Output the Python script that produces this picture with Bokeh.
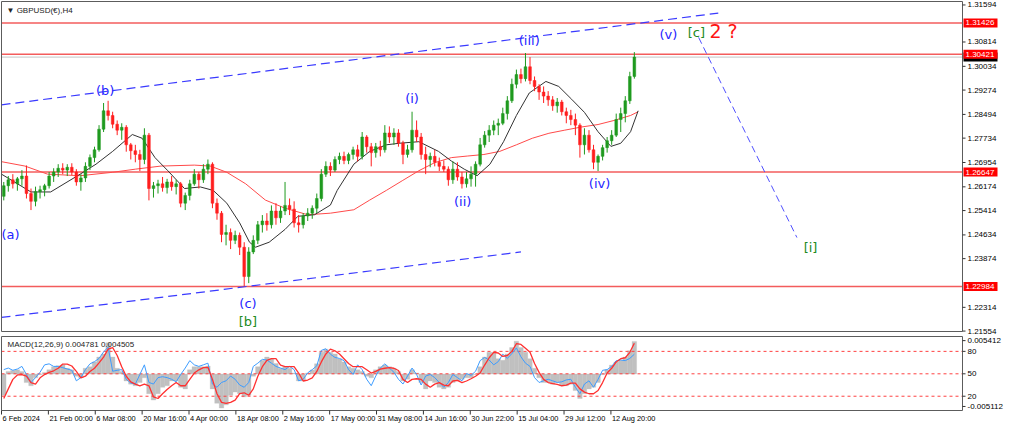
import numpy as np
from bokeh.plotting import figure
from bokeh.models import Range1d, ColumnDataSource
from bokeh.layouts import column
from bokeh.embed import file_html
from bokeh.resources import INLINE
from bokeh.core.properties import value

# ---------------- data ----------------
BARS_PER_CANDLE = 6          # one drawn candle = one trading day of H4 bars

first_open = 1.2587
closes = [
    1.2621, 1.2640, 1.2627, 1.2643, 1.2652, 1.2596, 1.2571, 1.2602, 1.2608, 1.2621,
    1.2652, 1.2665, 1.2677, 1.2671, 1.2680, 1.2665, 1.2633, 1.2646, 1.2683, 1.2711,
    1.2736, 1.2802, 1.2861, 1.2846, 1.2818, 1.2799, 1.2808, 1.2752, 1.2733, 1.2721,
    1.2705, 1.2783, 1.2612, 1.2621, 1.2627, 1.2615, 1.2633, 1.2618, 1.2627, 1.2565,
    1.2590, 1.2627, 1.2658, 1.2640, 1.2674, 1.2690, 1.2565, 1.2533, 1.2465, 1.2471,
    1.2446, 1.2462, 1.2424, 1.2330, 1.2409, 1.2446, 1.2496, 1.2508, 1.2496, 1.2540,
    1.2518, 1.2540, 1.2558, 1.2546, 1.2502, 1.2496, 1.2524, 1.2533, 1.2549, 1.2580,
    1.2658, 1.2683, 1.2671, 1.2705, 1.2715, 1.2702, 1.2721, 1.2736, 1.2715, 1.2777,
    1.2746, 1.2727, 1.2746, 1.2736, 1.2790, 1.2777, 1.2790, 1.2758, 1.2721, 1.2736,
    1.2799, 1.2777, 1.2721, 1.2705, 1.2715, 1.2696, 1.2683, 1.2674, 1.2640, 1.2674,
    1.2649, 1.2627, 1.2643, 1.2658, 1.2690, 1.2752, 1.2783, 1.2799, 1.2815, 1.2821,
    1.2852, 1.2893, 1.2946, 1.2977, 1.2964, 1.3002, 1.2958, 1.2939, 1.2921, 1.2908,
    1.2896, 1.2877, 1.2889, 1.2858, 1.2846, 1.2833, 1.2815, 1.2752, 1.2783, 1.2736,
    1.2696, 1.2715, 1.2743, 1.2765, 1.2783, 1.2833, 1.2852, 1.2893, 1.2971, 1.3033,
]
highs = [
    1.2633, 1.2652, 1.2658, 1.2649, 1.2671, 1.2686, 1.2612, 1.2618, 1.2621, 1.2627,
    1.2665, 1.2677, 1.2690, 1.2693, 1.2690, 1.2693, 1.2674, 1.2658, 1.2696, 1.2721,
    1.2746, 1.2815, 1.2886, 1.2893, 1.2858, 1.2830, 1.2821, 1.2815, 1.2758, 1.2752,
    1.2736, 1.2805, 1.2790, 1.2633, 1.2640, 1.2649, 1.2643, 1.2652, 1.2640, 1.2633,
    1.2599, 1.2640, 1.2674, 1.2665, 1.2690, 1.2705, 1.2696, 1.2580, 1.2540, 1.2496,
    1.2484, 1.2477, 1.2471, 1.2440, 1.2424, 1.2462, 1.2508, 1.2527, 1.2533, 1.2558,
    1.2565, 1.2555, 1.2633, 1.2580, 1.2571, 1.2527, 1.2533, 1.2549, 1.2558, 1.2596,
    1.2674, 1.2699, 1.2696, 1.2715, 1.2727, 1.2730, 1.2727, 1.2746, 1.2752, 1.2793,
    1.2783, 1.2758, 1.2758, 1.2765, 1.2815, 1.2811, 1.2805, 1.2802, 1.2765, 1.2752,
    1.2858, 1.2830, 1.2790, 1.2746, 1.2727, 1.2736, 1.2711, 1.2702, 1.2683, 1.2699,
    1.2696, 1.2665, 1.2665, 1.2683, 1.2699, 1.2774, 1.2796, 1.2815, 1.2830, 1.2836,
    1.2871, 1.2908, 1.2964, 1.2993, 1.2996, 1.3046, 1.3033, 1.2971, 1.2946, 1.2939,
    1.2924, 1.2908, 1.2902, 1.2896, 1.2871, 1.2864, 1.2852, 1.2821, 1.2805, 1.2799,
    1.2752, 1.2721, 1.2752, 1.2777, 1.2799, 1.2852, 1.2871, 1.2908, 1.2986, 1.3049,
]
lows = [
    1.2574, 1.2602, 1.2612, 1.2605, 1.2621, 1.2580, 1.2543, 1.2555, 1.2580, 1.2587,
    1.2612, 1.2633, 1.2649, 1.2658, 1.2652, 1.2655, 1.2621, 1.2605, 1.2633, 1.2671,
    1.2696, 1.2730, 1.2793, 1.2830, 1.2805, 1.2783, 1.2768, 1.2730, 1.2705, 1.2696,
    1.2668, 1.2690, 1.2574, 1.2583, 1.2596, 1.2602, 1.2596, 1.2605, 1.2593, 1.2552,
    1.2543, 1.2574, 1.2621, 1.2612, 1.2630, 1.2658, 1.2549, 1.2512, 1.2440, 1.2430,
    1.2418, 1.2434, 1.2399, 1.2299, 1.2309, 1.2402, 1.2434, 1.2471, 1.2477, 1.2484,
    1.2496, 1.2502, 1.2527, 1.2527, 1.2487, 1.2471, 1.2484, 1.2508, 1.2515, 1.2533,
    1.2571, 1.2649, 1.2652, 1.2665, 1.2690, 1.2690, 1.2690, 1.2705, 1.2699, 1.2705,
    1.2727, 1.2683, 1.2711, 1.2715, 1.2727, 1.2758, 1.2752, 1.2746, 1.2690, 1.2711,
    1.2727, 1.2761, 1.2705, 1.2658, 1.2680, 1.2683, 1.2668, 1.2665, 1.2621, 1.2627,
    1.2637, 1.2612, 1.2615, 1.2618, 1.2618, 1.2683, 1.2743, 1.2761, 1.2783, 1.2783,
    1.2815, 1.2833, 1.2886, 1.2933, 1.2949, 1.2955, 1.2946, 1.2924, 1.2896, 1.2886,
    1.2877, 1.2861, 1.2855, 1.2846, 1.2821, 1.2815, 1.2783, 1.2711, 1.2721, 1.2727,
    1.2674, 1.2668, 1.2702, 1.2727, 1.2752, 1.2777, 1.2793, 1.2824, 1.2883, 1.2964,
]

# moving averages (bar index, price)
ma_fast_bars = [0, 39, 65, 104, 125, 147, 173, 186, 203, 220, 242, 263, 280, 298, 315,
                328, 336, 354, 375, 392, 414, 435, 444, 466, 487, 509, 526, 552, 578,
                595, 612, 629, 646, 664, 681, 698, 720, 737, 754, 771, 789, 806, 819,
                832, 842]
ma_fast = [1.2658, 1.2601, 1.2601, 1.2658, 1.2690, 1.2731, 1.2785, 1.2773, 1.2711,
           1.2669, 1.2612, 1.2617, 1.2606, 1.2565, 1.2502, 1.2440, 1.2424, 1.2440,
           1.2481, 1.2523, 1.2528, 1.2559, 1.2606, 1.2690, 1.2731, 1.2752, 1.2757,
           1.2762, 1.2731, 1.2700, 1.2674, 1.2653, 1.2690, 1.2762, 1.2846, 1.2918,
           1.2955, 1.2939, 1.2898, 1.2856, 1.2794, 1.2747, 1.2757, 1.2794, 1.2861]
ma_slow_bars = [0, 31, 61, 104, 147, 177, 211, 255, 276, 298, 323, 349, 375, 405, 435,
                466, 487, 509, 530, 552, 573, 595, 616, 638, 659, 681, 702, 724, 745,
                767, 789, 810, 832, 842]
ma_slow = [1.2698, 1.2684, 1.2658, 1.2653, 1.2664, 1.2674, 1.2684, 1.2687, 1.2684,
           1.2664, 1.2627, 1.2575, 1.2549, 1.2528, 1.2533, 1.2544, 1.2575, 1.2606,
           1.2637, 1.2669, 1.2695, 1.2711, 1.2716, 1.2721, 1.2731, 1.2752, 1.2773,
           1.2789, 1.2799, 1.2809, 1.2817, 1.2830, 1.2846, 1.2858]

# MACD histogram and signal (units of 1e-3), oscillator (0-100)
macd_hist_e3 = [
    -3.13, 0.37, 0.51, 0.61, 0.37, -1.26, -1.73, -0.56, -0.09, 0.23,
    0.61, 1.07, 1.21, 1.31, 0.84, 0.61, -0.33, -0.56, 0.84, 1.07,
    1.77, 2.48, 2.94, 4.58, 2.48, 0.84, 0.37, -1.03, -1.49, -1.73,
    -1.26, -0.56, -2.90, -3.83, -2.90, -1.96, -1.73, -1.03, -1.03, -1.96,
    -2.19, 0.61, 1.07, 1.07, 1.07, 1.17, -2.19, -4.30, -5.00, -4.53,
    -3.13, -2.66, -2.90, -3.36, -3.13, -0.33, 1.07, 2.01, 2.48, 2.24,
    1.54, 0.84, 1.07, 0.84, 0.14, -1.03, -1.03, 0.14, 0.60, 1.50,
    3.20, 3.64, 3.18, 2.94, 2.24, 1.77, 1.07, 0.84, 0.61, 0.37,
    -0.33, -0.56, 0.61, 1.07, 1.31, 1.07, 0.84, 0.37, -1.03, -0.79,
    0.61, 0.14, -1.26, -2.19, -1.03, -1.26, -1.96, -2.19, -1.96, -1.26,
    -1.03, -0.79, -0.56, -0.56, -0.09, 1.07, 2.48, 3.18, 3.18, 2.24,
    2.01, 2.94, 3.88, 4.81, 3.88, 3.18, 2.24, 0.84, -0.56, -1.26,
    -1.26, -1.49, -1.26, -1.73, -1.73, -1.49, -2.43, -3.60, -2.90, -2.19,
    -1.96, -1.26, -0.09, 0.61, 1.31, 1.77, 2.01, 2.48, 3.41, 4.78,
]
macd_signal_e3 = [
    -3.60, -2.19, -0.79, -0.14, -0.09, -0.33, -1.26, -1.49, -0.56, -0.09,
    0.23, 0.47, 0.84, 1.45, 1.45, 1.17, 0.37, -0.56, -0.33, 0.37,
    0.84, 1.63, 2.48, 3.64, 3.88, 2.71, 1.07, -0.33, -1.17, -1.49,
    -1.73, -1.49, -1.73, -3.36, -3.60, -2.90, -2.29, -1.73, -1.26, -1.73,
    -1.73, -0.79, 0.14, 0.61, 0.93, 0.98, -0.79, -2.90, -4.16, -4.30,
    -4.16, -3.83, -2.90, -2.76, -3.13, -2.19, -0.33, 1.07, 2.01, 2.24,
    2.24, 1.31, 1.07, 1.07, 1.07, 0.14, -1.03, -0.89, -0.56, 0.37,
    1.77, 2.94, 3.64, 3.41, 2.94, 2.24, 1.54, 1.07, 1.07, 1.07,
    0.61, 0.14, 0.37, 0.70, 0.84, 0.93, 0.84, 0.51, -0.79, -1.26,
    -0.79, -0.70, -0.79, -1.49, -1.96, -1.49, -1.26, -1.63, -1.73, -1.03,
    -0.93, -1.26, -1.03, -0.70, -0.33, 0.14, 1.31, 2.38, 3.18, 3.08,
    2.57, 2.71, 3.32, 4.44, 4.34, 3.78, 3.18, 1.54, 0.23, -0.79,
    -1.26, -1.40, -1.54, -1.73, -1.63, -1.35, -1.35, -2.19, -2.66, -2.90,
    -2.90, -2.43, -1.26, 0.14, 0.84, 1.77, 2.24, 2.38, 3.18, 4.50,
]
oscillator = [
    55.6, 57.7, 54.7, 56.4, 59.9, 49.1, 38.4, 44.9, 52.1, 62.0,
    63.3, 59.9, 59.9, 58.2, 56.4, 54.7, 40.6, 44.9, 55.6, 63.3,
    66.3, 70.6, 79.2, 85.6, 53.4, 54.7, 55.6, 42.7, 37.6, 36.3,
    49.1, 62.0, 38.4, 36.3, 44.9, 46.1, 44.9, 42.7, 39.3, 49.1,
    57.7, 67.6, 62.0, 59.9, 62.0, 64.2, 36.3, 32.0, 38.4, 40.6,
    47.0, 42.7, 35.0, 32.0, 38.4, 59.9, 64.2, 69.3, 68.4, 64.2,
    59.9, 57.7, 55.6, 59.9, 55.6, 40.6, 42.7, 51.3, 55.6, 60.7,
    81.3, 83.5, 76.2, 71.9, 70.6, 67.6, 55.6, 49.1, 62.0, 55.6,
    42.7, 34.1, 47.0, 57.7, 63.3, 57.7, 52.1, 42.7, 36.3, 47.0,
    57.7, 49.1, 35.0, 47.0, 49.1, 44.9, 38.4, 32.0, 38.4, 49.1,
    44.9, 40.6, 50.4, 47.9, 53.4, 67.6, 71.9, 68.4, 62.0, 66.3,
    76.2, 70.6, 77.0, 84.7, 72.7, 64.2, 59.9, 44.9, 38.4, 40.6,
    42.7, 40.6, 38.4, 39.3, 41.8, 42.7, 32.0, 23.4, 36.3, 40.6,
    32.0, 42.7, 54.7, 55.6, 59.9, 67.6, 68.4, 67.6, 70.6, 76.2,
]
osc_levels = [80, 50, 20]

# horizontal price levels and current bid
levels = [1.31426, 1.30421, 1.26647, 1.22984]
bid_price = 1.3033

# channel / projection lines: (bar index, price) endpoints
upper_channel_bars, upper_channel_prices = [0, 948], [1.2880, 1.3174]
lower_channel_bars, lower_channel_prices = [0, 687], [1.2199, 1.2409]
projection_bars, projection_prices = [922, 1052], [1.3096, 1.2455]

# wave labels
wave_text = ["(a)", "(b)", "(c)", "[b]", "(i)", "(ii)", "(iii)", "(iv)", "(v)", "[c]", "2 ?", "[i]"]
wave_bar = [12, 137, 326, 326, 543, 610, 698, 791, 882, 919, 955, 1070]
wave_price = [1.2465, 1.2927, 1.2243, 1.2187, 1.2899, 1.2571, 1.3086, 1.2627,
              1.3105, 1.3111, 1.3117, 1.2424]
wave_color = ["#2424ff"] * 3 + ["#218a21"] + ["#2424ff"] * 5 + ["#218a21", "#ff1414", "#218a21"]
wave_size = ["13px"] * 10 + ["19px", "13px"]

# axis ticks
price_tick_pos = [1.3200, 1.30814, 1.30034, 1.29274, 1.28494, 1.27734, 1.26954, 1.26174,
                  1.25414, 1.24634, 1.23874, 1.22314, 1.21554]
price_tick_text = ["1.31594", "1.30814", "1.30034", "1.29274", "1.28494", "1.27734",
                   "1.26954", "1.26174", "1.25414", "1.24634", "1.23874", "1.22314", "1.21554"]
date_tick_bars = [0, 62, 124, 186, 248, 310, 372, 434, 496, 558, 620, 682, 744, 806]
date_tick_text = ["6 Feb 2024", "21 Feb 00:00", "6 Mar 08:00", "20 Mar 16:00", "4 Apr 00:00",
                  "18 Apr 08:00", "2 May 16:00", "17 May 00:00", "31 May 08:00",
                  "14 Jun 16:00", "30 Jun 22:00", "15 Jul 04:00", "29 Jul 12:00",
                  "12 Aug 20:00"]
osc_tick_pos = [94.4, 80, 50, 20, 6.3]
osc_tick_text = ["0.005412", "80", "50", "20", "-0.005112"]

# ---------------- layout constants (pixels) ----------------
FONT = value("Liberation Sans")
W = 1008
X_END = 1271                 # last bar position at the right edge of the chart frame
FRAME_L_PX, FRAME_W_PX = 1, 961
PXB = FRAME_W_PX / X_END     # pixels per bar
x_lo = -FRAME_L_PX / PXB
x_hi = x_lo + W / PXB
AX = lambda px: X_END + px / PXB   # x position px pixels right of the frame

P_TOP, P_BOT = 1.32111, 1.2154
H1, F1_TOP, F1_H = 335, 1, 330
ppx = (P_TOP - P_BOT) / F1_H
y1_hi = P_TOP + F1_TOP * ppx
y1_lo = y1_hi - H1 * ppx

M_TOP, M_BOT = 0.0055, -0.00536
O_TOP, O_BOT = 99.9, 0.9
H2, F2_TOP, F2_H = 90, 1, 74
mpx = (M_TOP - M_BOT) / F2_H
opx = (O_TOP - O_BOT) / F2_H

FRAME_COLOR = "#5c5c5c"

# ---------------- main panel ----------------
n = len(closes)
xc = np.arange(n) * BARS_PER_CANDLE + BARS_PER_CANDLE / 2
opens = [first_open] + closes[:-1]
is_up = [c >= o for o, c in zip(opens, closes)]
col = ["#1f9a1f" if u else "#ff1e1e" for u in is_up]
candles = ColumnDataSource(dict(
    x=xc, top=np.maximum(opens, closes), bot=np.minimum(opens, closes),
    hi=np.maximum(highs, np.maximum(opens, closes)),
    lo=np.minimum(lows, np.minimum(opens, closes)),
    color=col,
))

x_range = Range1d(x_lo, x_hi)
p1 = figure(width=W, height=H1, x_range=x_range, y_range=Range1d(y1_lo, y1_hi),
            x_axis_location=None, y_axis_location=None, toolbar_location=None,
            output_backend="svg", min_border=0)
p1.grid.visible = False
p1.outline_line_color = None

# level lines (chart frame only) and bid line
p1.segment(x0=[0] * len(levels), y0=levels, x1=[X_END] * len(levels), y1=levels,
           line_color="#f24a4a", line_width=1.5, line_alpha=0.9)
p1.segment(x0=[0], y0=[bid_price], x1=[X_END], y1=[bid_price], line_color="#c4c4c4", line_width=1)

# channel lines
p1.line(upper_channel_bars, upper_channel_prices, line_color="#3a3aff", line_width=1.2, line_dash="9 5")
p1.line(lower_channel_bars, lower_channel_prices, line_color="#3a3aff", line_width=1.2, line_dash="9 5")
p1.line(projection_bars, projection_prices, line_color="#5050ff", line_width=1, line_dash="7 4")

# moving averages
p1.line(ma_slow_bars, ma_slow, line_color="#ff4a4a", line_width=1)
p1.line(ma_fast_bars, ma_fast, line_color="#333333", line_width=1)

# candles
p1.segment(x0="x", y0="lo", x1="x", y1="hi", line_color="color", line_width=1, source=candles)
p1.vbar(x="x", top="top", bottom="bot", width=BARS_PER_CANDLE * 0.6, fill_color="color",
        line_color="color", line_width=0.5, source=candles)

# wave labels
waves = ColumnDataSource(dict(x=wave_bar, y=wave_price, t=wave_text, c=wave_color, s=wave_size))
p1.text(x="x", y="y", text="t", text_color="c", text_font_size="s", text_align="center",
        text_baseline="middle", text_font=value("DejaVu Sans"), source=waves)

# symbol title
p1.text(x=[5 / PXB], y=[P_TOP - 4 * ppx], text=["\u25bc GBPUSD(\u20ac),H4"],
        text_font=FONT, text_font_size="8px", text_color="#222222",
        text_baseline="top", text_align="left")

# chart frame
p1.quad(left=[0], right=[X_END], bottom=[P_BOT], top=[P_TOP], fill_color=None,
        line_color=FRAME_COLOR, line_width=1)

# right price scale: ticks and labels
p1.segment(x0=[X_END] * len(price_tick_pos), y0=price_tick_pos,
           x1=[AX(3)] * len(price_tick_pos), y1=price_tick_pos, line_color="#333333")
p1.text(x=[AX(5)] * len(price_tick_pos), y=price_tick_pos, text=price_tick_text,
        text_font=FONT, text_font_size="8px", text_color="black",
        text_baseline="middle", text_align="left")

# price tags (bid in black, then levels in red)
TAG_W, TAG_H = 34, 9
p1.rect(x=[AX(1 + TAG_W / 2)], y=[bid_price], width=TAG_W, height=TAG_H,
        width_units="screen", height_units="screen", fill_color="black", line_color=None)
p1.rect(x=[AX(1 + TAG_W / 2)] * len(levels), y=levels, width=TAG_W, height=TAG_H,
        width_units="screen", height_units="screen", fill_color="#ff0000", line_color=None)
p1.text(x=[AX(3)] * len(levels), y=levels, text=[f"{lv:.5f}" for lv in levels],
        text_font=FONT, text_font_size="8px", text_color="white",
        text_baseline="middle", text_align="left")

# ---------------- MACD panel ----------------
macd_hist = [v * 1e-3 for v in macd_hist_e3]
macd_signal = [v * 1e-3 for v in macd_signal_e3]
y2_hi = M_TOP + F2_TOP * mpx
y2_lo = y2_hi - H2 * mpx
o_hi = O_TOP + F2_TOP * opx
o_lo = o_hi - H2 * opx

p2 = figure(width=W, height=H2, x_range=x_range, y_range=Range1d(y2_lo, y2_hi),
            x_axis_location=None, y_axis_location=None, toolbar_location=None,
            output_backend="svg", min_border=0)
p2.extra_y_ranges = {"osc": Range1d(o_lo, o_hi)}
p2.grid.visible = False
p2.outline_line_color = None

p2.vbar(x=xc, top=macd_hist, bottom=0, width=BARS_PER_CANDLE, fill_color="#c0c0c0",
        line_color="#c0c0c0", line_width=0.3)
p2.segment(x0=[0] * 3, y0=osc_levels, x1=[X_END] * 3, y1=osc_levels, y_range_name="osc",
           line_color="#ff4040", line_dash="3 3", line_width=1)
p2.line(xc, oscillator, y_range_name="osc", line_color="#3d9cff", line_width=1)
p2.line(xc, macd_signal, line_color="#ff3030", line_width=1.3)

p2.text(x=[6 / PXB], y=[M_TOP - 3 * mpx], text=["MACD(12,26,9) 0.004781 0.004505"],
        text_font=FONT, text_font_size="8px", text_color="#222222",
        text_baseline="top", text_align="left")

# frame
p2.quad(left=[0], right=[X_END], bottom=[M_BOT], top=[M_TOP], fill_color=None,
        line_color=FRAME_COLOR, line_width=1)

# right scale of the indicator window
p2.segment(x0=[X_END] * len(osc_tick_pos), y0=osc_tick_pos, x1=[AX(3)] * len(osc_tick_pos),
           y1=osc_tick_pos, y_range_name="osc", line_color="#333333")
p2.text(x=[AX(5)] * len(osc_tick_pos), y=osc_tick_pos, text=osc_tick_text,
        y_range_name="osc", text_font=FONT, text_font_size="8px", text_color="black",
        text_baseline="middle", text_align="left")

# time scale
nd = len(date_tick_bars)
p2.segment(x0=date_tick_bars, y0=[M_BOT] * nd, x1=date_tick_bars, y1=[M_BOT - 4 * mpx] * nd,
           line_color="#333333")
p2.text(x=[b + 1 / PXB for b in date_tick_bars], y=[M_BOT - 3 * mpx] * nd, text=date_tick_text,
        text_font=FONT, text_font_size="7.4px", text_color="black",
        text_baseline="top", text_align="left")

layout = column(p1, p2, spacing=0)
open("out.html", "w").write(file_html(layout, INLINE))
